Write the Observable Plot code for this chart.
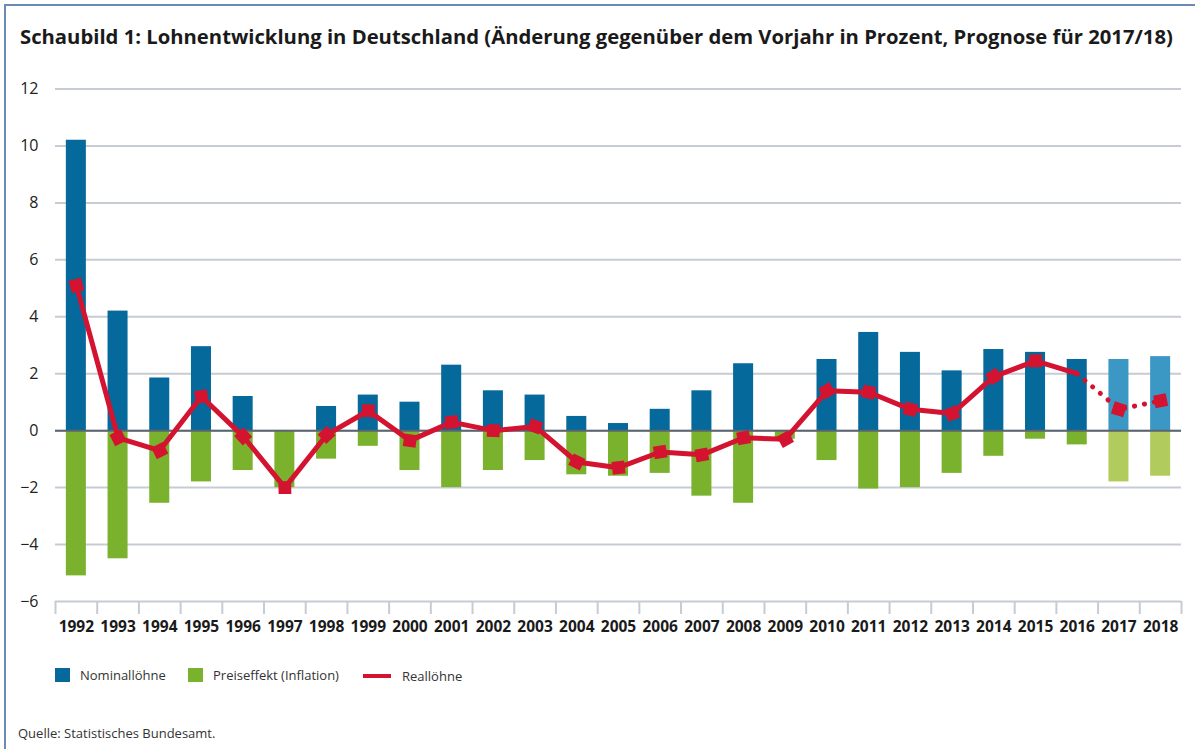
<!DOCTYPE html>
<html>
<head>
<meta charset="utf-8">
<script src="https://cdn.jsdelivr.net/npm/d3@7"></script>
<script src="https://cdn.jsdelivr.net/npm/@observablehq/plot@0.6"></script>
<style>
  html, body { margin: 0; padding: 0; background: #fff; }
  #wrap { position: relative; width: 1195px; height: 749px; overflow: hidden; font-family: "Open Sans", sans-serif; color: #222; }
  .frameTop { position: absolute; left: 4px; top: 4px; width: 1200px; height: 2px; background: #6a8cb2; }
  .frameLeft { position: absolute; left: 4px; top: 4px; width: 2px; height: 760px; background: #6a8cb2; }
  #title { position: absolute; left: 20px; top: 22px; font-size: 20.25px; font-weight: 700; color: #1a1a1a; white-space: nowrap; }
  #chart { position: absolute; left: 0; top: 60px; }
  .leg { position: absolute; font-size: 13px; color: #333; white-space: nowrap; line-height: 16px; }
  .sw { position: absolute; }
  #source { position: absolute; left: 18px; top: 724px; font-size: 13px; color: #333; white-space: nowrap; }
</style>
</head>
<body>
<div id="wrap">
  <div class="frameTop"></div>
  <div class="frameLeft"></div>
  <div id="title">Schaubild 1: Lohnentwicklung in Deutschland (Änderung gegenüber dem Vorjahr in Prozent, Prognose für 2017/18)</div>
  <div id="chart"></div>
  <div class="sw" style="left:55px; top:668px; width:15px; height:14px; background:#05699b;"></div>
  <div class="leg" style="left:80px; top:667px;">Nominallöhne</div>
  <div class="sw" style="left:188px; top:668px; width:15px; height:14px; background:#7bb22d;"></div>
  <div class="leg" style="left:213px; top:667px;">Preiseffekt (Inflation)</div>
  <div class="sw" style="left:363px; top:674px; width:28px; height:4px; background:#d3132f;"></div>
  <div class="leg" style="left:402px; top:668px;">Reallöhne</div>
  <div id="source">Quelle: Statistisches Bundesamt.</div>
</div>
<script>
const years = [1992,1993,1994,1995,1996,1997,1998,1999,2000,2001,2002,2003,2004,2005,2006,2007,2008,2009,2010,2011,2012,2013,2014,2015,2016,2017,2018];
const nominal = [10.2,4.2,1.85,2.95,1.2,0.0,0.85,1.25,1.0,2.3,1.4,1.25,0.5,0.25,0.75,1.4,2.35,0.0,2.5,3.45,2.75,2.1,2.85,2.75,2.5,2.5,2.6];
const inflation = [-5.1,-4.5,-2.55,-1.8,-1.4,-2.0,-1.0,-0.55,-1.4,-2.0,-1.4,-1.05,-1.55,-1.6,-1.5,-2.3,-2.55,-0.3,-1.05,-2.05,-2.0,-1.5,-0.9,-0.3,-0.5,-1.8,-1.6];
const real = [5.1,-0.25,-0.7,1.2,-0.2,-2.0,-0.15,0.7,-0.35,0.3,0.0,0.15,-1.1,-1.3,-0.75,-0.85,-0.25,-0.3,1.4,1.35,0.75,0.6,1.9,2.45,2.0,0.75,1.05];
const forecastYears = [2017, 2018];
const yTicks = [-6,-4,-2,0,2,4,6,8,10,12];

const data = years.map((year, i) => ({year, nominal: nominal[i], inflation: inflation[i], real: real[i], forecast: forecastYears.includes(year)}));
const actual = data.filter(d => !d.forecast);
const fc = data.filter(d => d.forecast);
const solid = data.filter(d => d.year <= 2016);
const dotted = data.filter(d => d.year >= 2016);
const markers = data.filter(d => d.year !== 2016);

const blue = "#05699b", blueL = "#3b97c3", green = "#7bb22d", greenL = "#b1cb5c", red = "#d3132f", grid = "#c6cbd4";
const half = 0.24;
const bounds = d3.range(years[0] - 0.5, years[years.length - 1] + 1, 1);

// marker orientation follows the local direction of the line
function angle(d) {
  const i = years.indexOf(d.year);
  const p = data[Math.max(0, i - 1)], n = data[Math.min(data.length - 1, i + 1)];
  const dx = (n.year - p.year) * 41.7, dy = -(n.real - p.real) * 28.5;
  return Math.atan2(dy, dx) * 180 / Math.PI;
}

const chart = Plot.plot({
  width: 1195,
  height: 590,
  marginTop: 28.5,
  marginBottom: 49,
  marginLeft: 55,
  marginRight: 14,
  style: {fontFamily: "Open Sans, sans-serif", background: "transparent"},
  x: {type: "linear", domain: [years[0] - 0.5, years[years.length - 1] + 0.5]},
  y: {domain: [-6, 12]},
  marks: [
    Plot.gridY(yTicks, {stroke: grid, strokeOpacity: 1, strokeWidth: 2}),
    Plot.axisY({ticks: yTicks, tickSize: 0, tickPadding: 17, fontSize: 16, fill: "#222", label: null}),
    Plot.axisX({ticks: bounds, tickSize: 13, tickFormat: () => "", stroke: grid, strokeWidth: 2, label: null}),
    Plot.axisX({ticks: years, tickSize: 0, tickPadding: 19, tickFormat: d => String(d), fontSize: 15.5, fontWeight: 700, fill: "#1a1a1a", label: null}),
    Plot.rectY(actual, {x1: d => d.year - half, x2: d => d.year + half, y1: 0, y2: "nominal", fill: blue}),
    Plot.rectY(actual, {x1: d => d.year - half, x2: d => d.year + half, y1: 0, y2: "inflation", fill: green}),
    Plot.rectY(fc, {x1: d => d.year - half, x2: d => d.year + half, y1: 0, y2: "nominal", fill: blueL}),
    Plot.rectY(fc, {x1: d => d.year - half, x2: d => d.year + half, y1: 0, y2: "inflation", fill: greenL}),
    Plot.ruleY([0], {stroke: "#5a6570", strokeWidth: 2}),
    Plot.line(solid, {x: "year", y: "real", stroke: red, strokeWidth: 5, strokeLinejoin: "round", strokeLinecap: "round"}),
    Plot.line(dotted, {x: "year", y: "real", stroke: red, strokeWidth: 5, strokeLinecap: "round", strokeDasharray: "0.1 10"}),
    Plot.dot(markers, {x: "year", y: "real", symbol: "square", r: 7.2, fill: red, stroke: "none", rotate: angle})
  ]
});
document.getElementById("chart").appendChild(chart);
</script>
</body>
</html>
